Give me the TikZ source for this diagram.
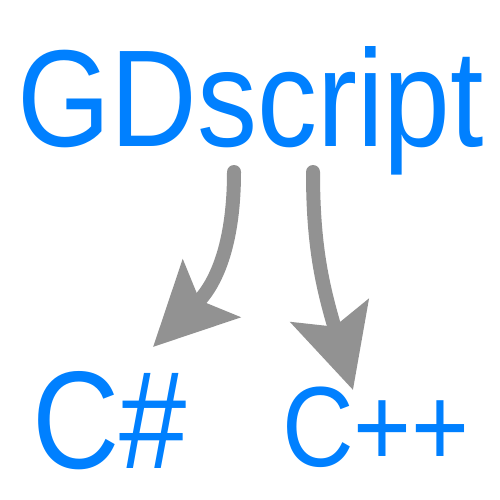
\documentclass[tikz,border=0pt]{standalone}
\usepackage{fontspec}
\setmainfont{Liberation Sans}
\usetikzlibrary{arrows.meta}
\definecolor{gdblue}{RGB}{0,128,255}
\definecolor{arrgrey}{RGB}{146,146,146}
\tikzset{
  lang/.style={anchor=base west, inner sep=0pt, outer sep=0pt, text=gdblue},
  conv/.style={draw=arrgrey, line width=14pt, line cap=round,
    -{Stealth[length=82pt, width=80pt, inset=16pt, fill=arrgrey]}}
}
\begin{document}
\begin{tikzpicture}[x=1pt,y=-1pt]
\useasboundingbox (0,0) rectangle (500,500);
\node[lang] (gd) at (17,146) {\fontsize{138}{140}\selectfont\scalebox{0.87}[1]{GDscript}};
\node[lang] (cs) at (32,468) {\fontsize{139}{141}\selectfont\scalebox{0.87}[1]{C\#}};
\node[lang] (cpp) at (282,466) {\fontsize{114}{116}\selectfont\scalebox{0.87}[1]{C++}};
\coordinate (s1) at (234,172);
\coordinate (t1) at (153,347);
\coordinate (s2) at (313,172);
\coordinate (t2) at (353,390);
\draw[conv] (s1) .. controls (234,240) and (218,282) .. (t1);
\draw[conv] (s2) .. controls (313,245) and (322,285) .. (t2);
\end{tikzpicture}
\end{document}
